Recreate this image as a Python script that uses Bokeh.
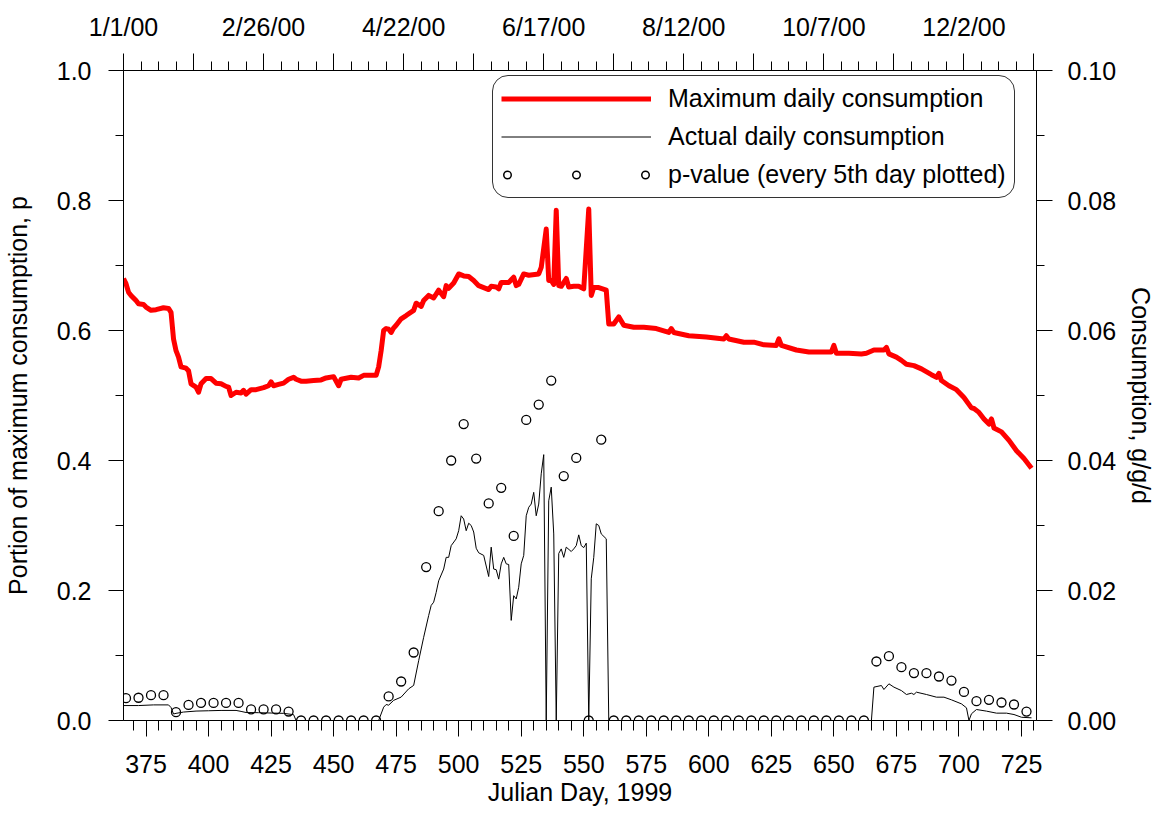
from bokeh.plotting import figure
from bokeh.models import Range1d, LinearAxis, FixedTicker, PrintfTickFormatter, Legend, LegendItem
from bokeh.embed import file_html
from bokeh.resources import INLINE
from datetime import date, timedelta

# ---------------- data ----------------
# Maximum daily consumption (g/g/d), Julian day 1999 numbering
max_days = [366, 367, 368, 369, 371, 372, 374, 375, 377, 379, 382, 384, 385, 386, 387, 388, 389,
            391, 392, 393, 395, 396, 397, 399, 401, 403, 405, 407, 408, 409, 411, 413, 414, 415,
            417, 419, 422, 424, 425, 426, 428, 430, 432, 434, 435, 437, 439, 442, 445, 447, 450,
            452, 453, 457, 460, 462, 467, 468, 469, 470, 471, 472, 473, 474, 475, 477, 479, 482,
            483, 485, 486, 488, 490, 492, 494, 495, 496, 498, 500, 502, 504, 506, 508, 512, 513,
            515, 516, 517, 520, 522, 523, 524, 526, 528, 532, 533, 535, 536, 537, 538, 539, 540,
            541, 543, 544, 546, 548, 550, 552, 553, 554, 556, 559, 560, 562, 564, 566, 570, 574,
            579, 584, 585, 586, 592, 599, 606, 607, 608, 614, 618, 622, 627, 628, 629, 635, 640,
            645, 649, 650, 651, 656, 661, 663, 666, 668, 670, 671, 672, 675, 677, 679, 682, 685,
            689, 691, 692, 693, 696, 699, 702, 705, 706, 708, 710, 712, 713, 714, 717, 720, 723,
            726, 729]
max_cons = [0.0680, 0.0672, 0.0659, 0.0654, 0.0646, 0.0641, 0.0640, 0.0636, 0.0631, 0.0632, 0.0635,
            0.0634, 0.0628, 0.0587, 0.0569, 0.0559, 0.0544, 0.0542, 0.0538, 0.0518, 0.0513, 0.0505,
            0.0518, 0.0526, 0.0526, 0.0519, 0.0518, 0.0514, 0.0513, 0.0500, 0.0505, 0.0504, 0.0508,
            0.0502, 0.0509, 0.0509, 0.0512, 0.0515, 0.0521, 0.0515, 0.0517, 0.0519, 0.0525, 0.0528,
            0.0525, 0.0522, 0.0522, 0.0523, 0.0524, 0.0527, 0.0529, 0.0515, 0.0525, 0.0528, 0.0527,
            0.0531, 0.0531, 0.0544, 0.0569, 0.0600, 0.0603, 0.0602, 0.0597, 0.0604, 0.0608, 0.0618,
            0.0623, 0.0631, 0.0642, 0.0637, 0.0646, 0.0654, 0.0650, 0.0662, 0.0652, 0.0669, 0.0665,
            0.0673, 0.0687, 0.0684, 0.0683, 0.0677, 0.0669, 0.0663, 0.0668, 0.0667, 0.0664, 0.0674,
            0.0674, 0.0682, 0.0669, 0.0671, 0.0687, 0.0685, 0.0687, 0.0697, 0.0756, 0.0677, 0.0677,
            0.0671, 0.0785, 0.0669, 0.0668, 0.0680, 0.0667, 0.0668, 0.0668, 0.0664, 0.0787, 0.0654,
            0.0666, 0.0666, 0.0662, 0.0610, 0.0610, 0.0621, 0.0608, 0.0605, 0.0605, 0.0603, 0.0597,
            0.0603, 0.0597, 0.0592, 0.0590, 0.0587, 0.0592, 0.0587, 0.0582, 0.0582, 0.0578, 0.0577,
            0.0587, 0.0577, 0.0570, 0.0567, 0.0567, 0.0567, 0.0577, 0.0565, 0.0565, 0.0564, 0.0565,
            0.0570, 0.0570, 0.0570, 0.0574, 0.0564, 0.0559, 0.0554, 0.0548, 0.0546, 0.0541, 0.0532,
            0.0528, 0.0534, 0.0523, 0.0515, 0.0509, 0.0497, 0.0481, 0.0480, 0.0474, 0.0464, 0.0456,
            0.0464, 0.0450, 0.0444, 0.0431, 0.0415, 0.0403, 0.0388]

# Actual daily consumption (g/g/d)
act_days = [366, 372, 378, 384, 385, 386, 387, 390, 395, 400, 405, 411, 413, 415, 420, 425, 430,
            434, 435, 468, 470, 471, 472, 474, 477, 480, 482, 484, 486, 488, 489, 490, 491, 492,
            494, 495, 496, 497, 499, 500, 501, 502, 503, 504, 505, 506, 507, 508, 510, 512, 513,
            514, 515, 516, 517, 518, 519, 520, 521, 522, 523, 524, 525, 526, 527, 528, 529, 530,
            531, 532, 533, 534, 535, 536, 537, 538, 539, 540, 541, 542, 543, 545, 546, 547, 548,
            549, 550, 551, 552, 553, 554, 555, 556, 557, 559, 560, 665, 666, 669, 670, 672, 674,
            677, 679, 681, 682, 683, 687, 691, 694, 697, 701, 703, 704, 705, 707, 711, 715, 719,
            722, 725, 729]
act_cons = [0.0023, 0.0023, 0.0024, 0.0024, 0.0020, 0.0010, 0.0011, 0.0013, 0.00145, 0.0015,
            0.00155, 0.00155, 0.0014, 0.00123, 0.0012, 0.00115, 0.0011, 0.0009, 0.0, 0.0,
            0.00205, 0.00246, 0.00236, 0.0031, 0.0036, 0.00487, 0.0054, 0.0092, 0.0128, 0.01615,
            0.0177, 0.0182, 0.0197, 0.0215, 0.0233, 0.0251, 0.0251, 0.0269, 0.02795, 0.0292,
            0.0315, 0.0310, 0.0292, 0.03035, 0.0300, 0.0290, 0.0265, 0.0258, 0.0254, 0.02215,
            0.02667, 0.0233, 0.0232, 0.02175, 0.0241, 0.0251, 0.0241, 0.0240, 0.0154, 0.0192,
            0.0187, 0.0205, 0.0241, 0.0254, 0.0315, 0.0328, 0.0333, 0.0351, 0.0315, 0.0333,
            0.03795, 0.0409, 0.0, 0.0338, 0.0359, 0.0287, 0.0, 0.0257, 0.0264, 0.0251, 0.02667,
            0.0260, 0.0264, 0.0269, 0.02856, 0.0269, 0.0266, 0.02728, 0.0, 0.0218, 0.0251,
            0.03026, 0.0300, 0.0287, 0.02795, 0.0, 0.0, 0.00513, 0.00538, 0.00477, 0.00564,
            0.00513, 0.0046, 0.0040, 0.0042, 0.0040, 0.00436, 0.0040, 0.00359, 0.00359, 0.00318,
            0.00256, 0.00195, 0.0, 0.00103, 0.00169, 0.00144, 0.00113, 0.00113, 0.00092, 0.0005,
            0.00041]

# p-value, every 5th day
p_days = list(range(367, 728, 5))
p_vals = [0.0344, 0.035, 0.039, 0.039, 0.0128, 0.024, 0.027, 0.027, 0.027, 0.027, 0.017, 0.017,
          0.017, 0.0138,
          0.0, 0.0, 0.0, 0.0, 0.0, 0.0, 0.0,
          0.037, 0.060, 0.1046, 0.236, 0.322, 0.400, 0.456, 0.403, 0.334, 0.358, 0.284, 0.4625,
          0.486, 0.523, 0.376, 0.404, 0.0, 0.432,
          0.0, 0.0, 0.0, 0.0, 0.0, 0.0, 0.0, 0.0, 0.0, 0.0, 0.0, 0.0, 0.0, 0.0, 0.0, 0.0, 0.0,
          0.0, 0.0, 0.0, 0.0,
          0.0908, 0.099, 0.082, 0.073, 0.0728, 0.0677, 0.0615, 0.044, 0.0297, 0.0318, 0.0277,
          0.0246, 0.0138]

bottom_ticks = [375, 400, 425, 450, 475, 500, 525, 550, 575, 600, 625, 650, 675, 700, 725]
left_ticks = [0.0, 0.2, 0.4, 0.6, 0.8, 1.0]
right_ticks = [0.0, 0.02, 0.04, 0.06, 0.08, 0.10]
top_ticks = [366 + 28 * k for k in range(14)]
top_minor = [366 + 7 * k for k in range(53)]
top_labels = {}
for k, t in enumerate(top_ticks):
    if k % 2 == 0:
        d = date(2000, 1, 1) + timedelta(days=t - 366)
        top_labels[t] = f"{d.month}/{d.day}/{d.year % 100:02d}"
    else:
        top_labels[t] = ""

FONT = "Liberation Sans"
NAN = float("nan")

# ---------------- figure ----------------
p = figure(width=1158, height=814, output_backend="svg", toolbar_location=None,
           x_range=Range1d(366, 731), y_range=Range1d(0, 1),
           x_axis_location=None, y_axis_location=None,
           min_border_left=123, min_border_right=121, min_border_top=70, min_border_bottom=94)
p.extra_y_ranges = {"cons": Range1d(0, 0.1)}
p.outline_line_color = None
p.xgrid.visible = False
p.ygrid.visible = False
p.background_fill_color = "white"
p.border_fill_color = "white"


def style(ax, tick_out, minor_out, standoff, label_standoff):
    ax.axis_line_color = "black"
    ax.major_tick_line_color = "black"
    ax.minor_tick_line_color = "black"
    ax.major_tick_in = 0
    ax.minor_tick_in = 0
    ax.major_tick_out = tick_out
    ax.minor_tick_out = minor_out
    ax.major_label_standoff = standoff
    ax.major_label_text_font = FONT
    ax.major_label_text_font_size = "25px"
    ax.major_label_text_color = "black"
    ax.axis_label_text_font = FONT
    ax.axis_label_text_font_size = "25px"
    ax.axis_label_text_font_style = "normal"
    ax.axis_label_text_color = "black"
    ax.axis_label_standoff = label_standoff


bottom = LinearAxis(ticker=FixedTicker(ticks=bottom_ticks, minor_ticks=list(range(370, 731, 5))),
                    axis_label="Julian Day, 1999")
style(bottom, 16, 10, 18, 2)
p.add_layout(bottom, "below")

left = LinearAxis(ticker=FixedTicker(ticks=left_ticks, minor_ticks=[k / 10 for k in range(11)]),
                  formatter=PrintfTickFormatter(format="%.1f"),
                  axis_label="Portion of maximum consumption, p")
style(left, 15, 8, 17, 22)
p.add_layout(left, "left")

right = LinearAxis(y_range_name="cons",
                   ticker=FixedTicker(ticks=right_ticks, minor_ticks=[k / 100 for k in range(11)]),
                   formatter=PrintfTickFormatter(format="%.2f"),
                   axis_label="Consumption, g/g/d")
style(right, 16, 8, 15, 8)
p.add_layout(right, "right")

top = LinearAxis(ticker=FixedTicker(ticks=top_ticks, minor_ticks=top_minor),
                 major_label_overrides=top_labels)
style(top, 17, 9, 13, 0)
p.add_layout(top, "above")

# ---------------- series ----------------
r_max = p.line(max_days, max_cons, y_range_name="cons", line_color="#ff0000", line_width=5,
               line_join="round")
r_act = p.line(act_days, act_cons, y_range_name="cons", line_color="black", line_width=1)
r_p = p.scatter(p_days, p_vals, marker="circle", size=9, fill_color=None,
                line_color="black", line_width=1.3)

# legend glyph for the p-value entry: a row of small open circles (nothing drawn in the plot)
dot_outer = p.line([NAN], [NAN], line_color="black", line_width=9, line_dash="0 69",
                   line_dash_offset=63, line_cap="round")
dot_inner = p.line([NAN], [NAN], line_color="white", line_width=6, line_dash="0 69",
                   line_dash_offset=63, line_cap="round")

legend = Legend(items=[
    LegendItem(label="Maximum daily consumption", renderers=[r_max]),
    LegendItem(label="Actual daily consumption", renderers=[r_act]),
    LegendItem(label="p-value (every 5th day plotted)", renderers=[dot_outer, dot_inner]),
], location=(369, 522), margin=0, padding=8, spacing=9, glyph_width=150, glyph_height=27,
    label_height=27, label_standoff=17, label_text_font=FONT, label_text_font_size="25px",
    label_text_color="black", border_line_color="#333333", border_line_width=1,
    border_line_alpha=1, background_fill_color="white", background_fill_alpha=1)
try:
    legend.border_radius = 16
except Exception:
    pass
p.add_layout(legend)

open("out.html", "w").write(file_html(p, INLINE))
